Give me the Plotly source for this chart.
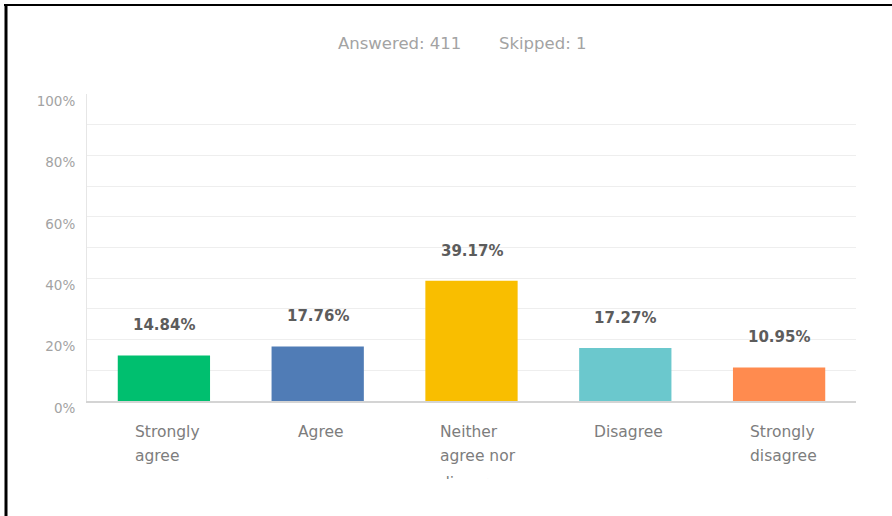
import plotly.graph_objects as go

# Survey responses (share of respondents, %)
categories = ["Strongly agree", "Agree", "Neither agree nor disagree", "Disagree", "Strongly disagree"]
label_lines = [["Strongly", "agree"], ["Agree"], ["Neither", "agree nor", "disagree"], ["Disagree"], ["Strongly", "disagree"]]
percentages = [14.84, 17.76, 39.17, 17.27, 10.95]
answered = 411
skipped = 1
y_ticks = [0, 20, 40, 60, 80, 100]

bar_colors = ["#00bf6f", "#507cb6", "#f9be00", "#6bc8cd", "#ff8b4f"]
# left offset (px) of each wrapped label block relative to its bar centre
label_offsets = [-31, -22, -34, -33, -31]

FONT = "DejaVu Sans"
W, H = 892, 516
L, R, T, B = 87, 36, 94, 115
PW, PH = W - L - R, H - T - B


def px_x(x):
    return (x - L) / PW


def px_y(y):
    return (H - B - y) / PH


fig = go.Figure(
    go.Bar(
        x=categories,
        y=percentages,
        marker=dict(color=bar_colors, line=dict(width=0)),
        hoverinfo="skip",
    )
)

annotations = []
# value labels above bars
for cat, val in zip(categories, percentages):
    annotations.append(dict(
        x=cat, y=val, xref="x", yref="y", text=f"{val:.2f}%",
        showarrow=False, yanchor="middle", yshift=30,
        font=dict(family=FONT, size=15, color="#5c5c5c", weight="bold"),
    ))

# wrapped category labels, left aligned under each bar
line_step = 24
for cat, lines, off in zip(categories, label_lines, label_offsets):
    for i, line in enumerate(lines):
        ann = dict(
            x=cat, y=0, xref="x", yref="y", text=line, showarrow=False,
            xanchor="left", xshift=off,
            font=dict(family=FONT, size=15.5, color="#7d7d7d"),
        )
        if i < 2:
            ann.update(yanchor="middle", yshift=-31 - line_step * i)
        else:
            # third line runs past the bottom of the label area and is cut off
            ann.update(yanchor="top", yshift=-71, height=5, valign="top")
        annotations.append(ann)

# response counts header
annotations.append(dict(
    x=px_x(463), y=px_y(44), xref="paper", yref="paper",
    text=f"Answered: {answered}", showarrow=False, xanchor="right", yanchor="middle",
    font=dict(family=FONT, size=16.5, color="#a3a3a3"),
))
annotations.append(dict(
    x=px_x(497), y=px_y(44), xref="paper", yref="paper",
    text=f"Skipped: {skipped}", showarrow=False, xanchor="left", yanchor="middle",
    font=dict(family=FONT, size=16.5, color="#a3a3a3"),
))

# black frame lines along the top and left edges
shapes = [
    dict(type="line", xref="paper", yref="paper", x0=px_x(4), x1=px_x(892), y0=px_y(5), y1=px_y(5),
         line=dict(color="black", width=2)),
    dict(type="line", xref="paper", yref="paper", x0=px_x(6), x1=px_x(6), y0=px_y(5), y1=px_y(516),
         line=dict(color="black", width=3)),
]

fig.update_layout(
    width=W, height=H,
    margin=dict(l=L, r=R, t=T, b=B, pad=0),
    paper_bgcolor="white", plot_bgcolor="white",
    bargap=0.4,
    showlegend=False,
    annotations=annotations,
    shapes=shapes,
)
fig.update_xaxes(
    type="category", showticklabels=False, showgrid=False, zeroline=False,
    showline=True, linecolor="#d4d4d4", linewidth=1.5, ticks="",
)
fig.update_yaxes(
    range=[0, 100], tickvals=y_ticks, ticktext=[f"{t}%" for t in y_ticks],
    showgrid=True, gridcolor="#eeeeee", gridwidth=1, zeroline=False,
    showline=True, linecolor="#e6e6e6", linewidth=1,
    minor=dict(dtick=10, showgrid=True, gridcolor="#eeeeee", gridwidth=1),
    tickfont=dict(family=FONT, size=13.5, color="#a3a3a3"),
    ticklabelstandoff=8, ticklabelshift=7, ticks="",
)

fig.write_html("out.html")
